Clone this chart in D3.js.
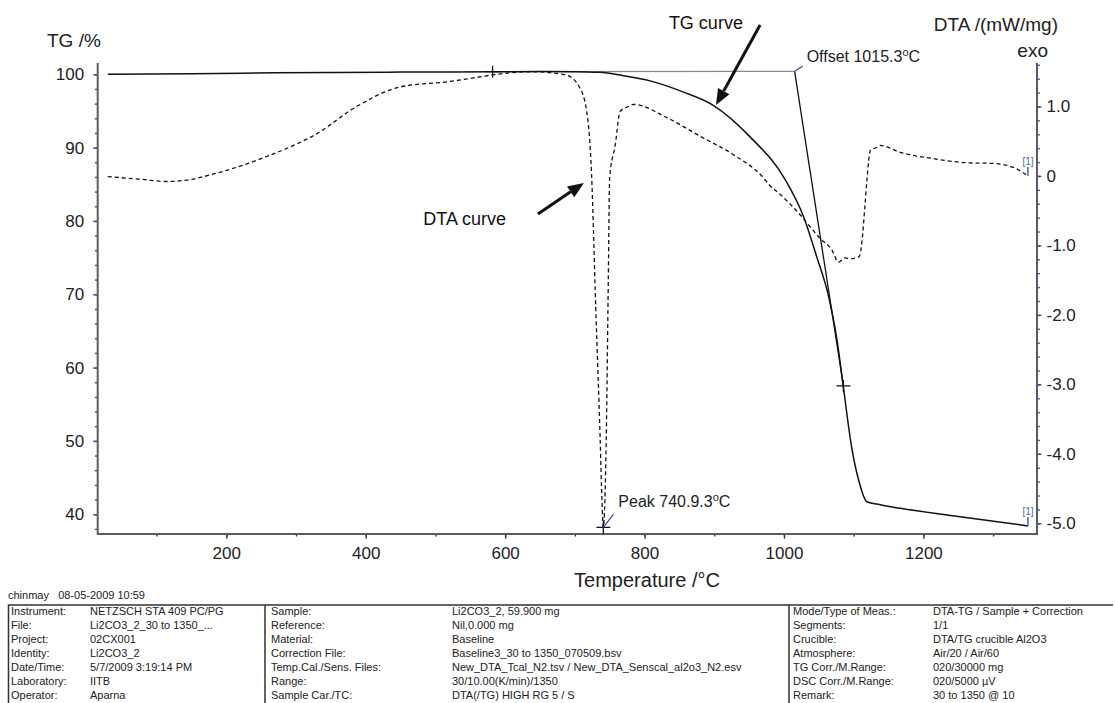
<!DOCTYPE html>
<html>
<head>
<meta charset="utf-8">
<script src="https://cdn.jsdelivr.net/npm/d3@7"></script>
<style>
  body { margin: 0; background: #fff; }
  svg { display: block; font-family: "Liberation Sans", Arial, sans-serif; }
</style>
</head>
<body>
<div id="chart"></div>
<script>
// data
const tempTG = [30, 150, 270, 450, 582, 650, 700, 736, 770, 808, 855, 898, 951, 1002, 1028, 1047, 1064, 1076, 1085, 1097, 1107, 1119, 1138, 1167, 1250, 1350];
const tgValues = [100.0, 100.08, 100.2, 100.3, 100.35, 100.38, 100.36, 100.27, 99.8, 99.1, 97.6, 95.8, 91.5, 85.6, 80.6, 75.1, 69.7, 63.8, 57.5, 49.2, 44.7, 41.7, 41.3, 40.8, 39.7, 38.4];

const tempDTA = [30, 80, 114, 143, 186, 258, 330, 387, 449, 521, 560, 593, 640, 688, 707, 717, 724, 730, 736.4, 739, 740.9, 743, 745, 748, 750, 758, 765, 777, 784, 832, 880, 927, 970, 980, 994, 1018, 1052, 1069, 1078, 1088, 1095, 1108, 1112, 1116, 1119, 1124, 1133, 1138, 1167, 1214, 1262, 1300, 1330, 1350];
const dtaValues = [-0.01, -0.05, -0.08, -0.06, 0.04, 0.28, 0.61, 1.0, 1.28, 1.36, 1.42, 1.47, 1.5, 1.45, 1.27, 0.93, 0.02, -1.9, -3.81, -4.7, -5.06, -4.7, -3.81, -1.5, -0.02, 0.45, 0.93, 1.0, 1.03, 0.84, 0.57, 0.31, -0.02, -0.14, -0.26, -0.5, -0.9, -1.07, -1.24, -1.18, -1.19, -1.16, -0.93, -0.45, -0.06, 0.37, 0.41, 0.44, 0.34, 0.25, 0.19, 0.18, 0.12, 0.0];

const xTicks = [200, 400, 600, 800, 1000, 1200];
const tgTicks = [40, 50, 60, 70, 80, 90, 100];
const dtaTicks = [1, 0, -1, -2, -3, -4, -5];
const dtaTickLabels = ["1.0", "0", "-1.0", "-2.0", "-3.0", "-4.0", "-5.0"];

// evaluation points
const tgStep = [582, 100.35];
const tgOffset = [1015.3, 100.4];
const tgInflection = [1085.3, 57.5];
const dtaPeak = [740.9, -5.06];

// footer info
const infoLabels1 = ["Instrument:", "File:", "Project:", "Identity:", "Date/Time:", "Laboratory:", "Operator:"];
const infoValues1 = ["NETZSCH STA 409 PC/PG", "Li2CO3_2_30 to 1350_...", "02CX001", "Li2CO3_2", "5/7/2009 3:19:14 PM", "IITB", "Aparna"];
const infoLabels2 = ["Sample:", "Reference:", "Material:", "Correction File:", "Temp.Cal./Sens. Files:", "Range:", "Sample Car./TC:"];
const infoValues2 = ["Li2CO3_2, 59.900 mg", "Nil,0.000 mg", "Baseline", "Baseline3_30 to 1350_070509.bsv", "New_DTA_Tcal_N2.tsv / New_DTA_Senscal_al2o3_N2.esv", "30/10.00(K/min)/1350", "DTA(/TG) HIGH RG 5 / S"];
const infoLabels3 = ["Mode/Type of Meas.:", "Segments:", "Crucible:", "Atmosphere:", "TG Corr./M.Range:", "DSC Corr./M.Range:", "Remark:"];
const infoValues3 = ["DTA-TG / Sample + Correction", "1/1", "DTA/TG crucible Al2O3", "Air/20 / Air/60", "020/30000 mg", "020/5000 µV", "30 to 1350 @ 10"];

const width = 1115, height = 703;
const plotL = 97.7, plotR = 1037, plotT = 63, plotB = 534;
const blue = "#3b45a8";
const axisGrey = "#5c5c5c";

const svg = d3.select("#chart").append("svg")
    .attr("width", width)
    .attr("height", height);

const x = d3.scaleLinear().domain([15.5, 1363]).range([plotL, plotR]);
const yTG = d3.scaleLinear().domain([37.3, 101.54]).range([plotB, plotT]);
const yDTA = d3.scaleLinear().domain([-5.154, 1.626]).range([plotB, plotT]);

// axes
function styleAxis(g, col) {
    g.select(".domain").remove();
    g.selectAll(".tick line").attr("stroke", col).attr("stroke-width", 1.4);
    g.selectAll(".tick text").attr("fill", "#222").style("font-size", "17px");
}

svg.append("g")
    .attr("transform", `translate(0,${plotB})`)
    .call(d3.axisBottom(x).tickValues(d3.range(100, 1400, 100)).tickSize(2.5).tickFormat(""))
    .call(g => styleAxis(g, "#333"));
svg.append("g")
    .attr("transform", `translate(0,${plotB})`)
    .call(d3.axisBottom(x).tickValues(xTicks).tickFormat(d3.format("d")).tickSize(4.7).tickPadding(8.5))
    .call(g => styleAxis(g, "#333"));

svg.append("g")
    .attr("transform", `translate(${plotL},0)`)
    .call(d3.axisLeft(yTG).tickValues(d3.range(38, 102, 2)).tickSize(2.8).tickFormat(""))
    .call(g => styleAxis(g, blue));
svg.append("g")
    .attr("transform", `translate(${plotL},0)`)
    .call(d3.axisLeft(yTG).tickValues(tgTicks).tickSize(4.5).tickPadding(9))
    .call(g => styleAxis(g, blue));

svg.append("g")
    .attr("transform", `translate(${plotR},0)`)
    .call(d3.axisRight(yDTA).tickValues(d3.range(-25, 9).map(d => d / 5)).tickSize(2.8).tickFormat(""))
    .call(g => styleAxis(g, blue));
svg.append("g")
    .attr("transform", `translate(${plotR},0)`)
    .call(d3.axisRight(yDTA).tickValues(dtaTicks).tickFormat((d, i) => dtaTickLabels[i]).tickSize(4.5).tickPadding(5))
    .call(g => styleAxis(g, blue));

// axis lines
svg.append("path")
    .attr("d", `M${plotL},${plotT}V${plotB}H${plotR}V${plotT}`)
    .attr("fill", "none")
    .attr("stroke", axisGrey)
    .attr("stroke-width", 2);

// axis titles
svg.append("text").attr("x", 47).attr("y", 47).style("font-size", "19px").attr("fill", "#222").text("TG /%");
svg.append("text").attr("x", 1058).attr("y", 31).attr("text-anchor", "end").style("font-size", "19px").attr("fill", "#222").text("DTA /(mW/mg)");
svg.append("text").attr("x", 1048).attr("y", 57).attr("text-anchor", "end").style("font-size", "19px").attr("fill", "#222").text("exo");
svg.append("text").attr("x", 647).attr("y", 587).attr("text-anchor", "middle").style("font-size", "20px").attr("fill", "#222").text("Temperature /°C");

// curves
const tgLine = d3.line().x(d => x(d[0])).y(d => yTG(d[1])).curve(d3.curveMonotoneX);
const dtaLine = d3.line().x(d => x(d[0])).y(d => yDTA(d[1])).curve(d3.curveMonotoneX);

// baseline + tangent for the offset evaluation
svg.append("line")
    .attr("x1", x(tgStep[0])).attr("y1", yTG(tgStep[1]))
    .attr("x2", x(tgOffset[0])).attr("y2", yTG(tgOffset[1]))
    .attr("stroke", "#8a8a8a").attr("stroke-width", 1.2);
svg.append("line")
    .attr("x1", x(tgOffset[0])).attr("y1", yTG(tgOffset[1]))
    .attr("x2", x(tgInflection[0])).attr("y2", yTG(tgInflection[1]))
    .attr("stroke", "#111").attr("stroke-width", 1.3);

svg.append("path")
    .datum(tempTG.map((t, i) => [t, tgValues[i]]))
    .attr("d", tgLine)
    .attr("fill", "none")
    .attr("stroke", "#111")
    .attr("stroke-width", 1.5);

svg.append("path")
    .datum(tempDTA.map((t, i) => [t, dtaValues[i]]))
    .attr("d", dtaLine)
    .attr("fill", "none")
    .attr("stroke", "#111")
    .attr("stroke-width", 1.3)
    .attr("stroke-dasharray", "4,3");

// plus markers
const plusPts = [[x(tgStep[0]), yTG(tgStep[1])], [x(tgInflection[0]), yTG(tgInflection[1])], [x(dtaPeak[0]), yDTA(dtaPeak[1])]];
svg.selectAll(".plus").data(plusPts).enter().append("path")
    .attr("d", d => `M${d[0] - 7},${d[1]}H${d[0] + 7}M${d[0]},${d[1] - 6}V${d[1] + 6}`)
    .attr("stroke", "#111").attr("stroke-width", 1.3);

// evaluation labels
const ox = x(tgOffset[0]), oy = yTG(tgOffset[1]);
svg.append("line").attr("x1", ox).attr("y1", oy).attr("x2", ox + 8).attr("y2", oy - 5).attr("stroke", blue).attr("stroke-width", 1.2);
const offT = svg.append("text").attr("x", ox + 12).attr("y", oy - 9).style("font-size", "16px").attr("fill", "#222");
offT.append("tspan").text("Offset 1015.3");
offT.append("tspan").attr("dy", -6).style("font-size", "11px").text("o");
offT.append("tspan").attr("dy", 6).text("C");

const px = x(dtaPeak[0]), py = yDTA(dtaPeak[1]);
svg.append("line").attr("x1", px).attr("y1", py).attr("x2", px + 10).attr("y2", py - 13).attr("stroke", blue).attr("stroke-width", 1.2);
const pkT = svg.append("text").attr("x", px + 15).attr("y", py - 20).style("font-size", "16px").attr("fill", "#222");
pkT.append("tspan").text("Peak 740.9.3");
pkT.append("tspan").attr("dy", -6).style("font-size", "11px").text("o");
pkT.append("tspan").attr("dy", 6).text("C");

// [1] end marks
const ends = [[x(tempDTA[tempDTA.length - 1]), yDTA(dtaValues[dtaValues.length - 1])], [x(tempTG[tempTG.length - 1]), yTG(tgValues[tgValues.length - 1])]];
ends.forEach(e => {
    svg.append("line").attr("x1", e[0]).attr("y1", e[1]).attr("x2", e[0]).attr("y2", e[1] - 9).attr("stroke", blue).attr("stroke-width", 1.3);
    svg.append("text").attr("x", e[0]).attr("y", e[1] - 11).attr("text-anchor", "middle").style("font-size", "10px").attr("fill", "#5060a8").text("[1]");
});

// arrows
function arrow(x1, y1, x2, y2) {
    const a = Math.atan2(y2 - y1, x2 - x1), L = 16, W = 6.5;
    const bx = x2 - L * Math.cos(a), by = y2 - L * Math.sin(a);
    svg.append("line").attr("x1", x1).attr("y1", y1).attr("x2", bx).attr("y2", by)
        .attr("stroke", "#111").attr("stroke-width", 3);
    svg.append("path")
        .attr("d", `M${x2},${y2}L${bx + W * Math.sin(a)},${by - W * Math.cos(a)}L${bx - W * Math.sin(a)},${by + W * Math.cos(a)}Z`)
        .attr("fill", "#111");
}
arrow(x(965.7), yTG(106.72), x(902.5), yTG(95.8));
arrow(x(647), yDTA(-0.547), x(713), yDTA(-0.1));
svg.append("text").attr("x", x(888)).attr("y", yTG(106.18)).attr("text-anchor", "middle").style("font-size", "18px").attr("fill", "#111").text("TG curve");
svg.append("text").attr("x", x(542)).attr("y", yDTA(-0.706)).attr("text-anchor", "middle").style("font-size", "18px").attr("fill", "#111").text("DTA curve");

// footer
const foot = svg.append("g").style("font-size", "11px").attr("fill", "#222");
foot.append("text").attr("x", 8).attr("y", 599).style("white-space", "pre").text("chinmay   08-05-2009 10:59");
foot.append("path")
    .attr("d", "M8.5,720V605H1113M265,605V720M789,605V720")
    .attr("fill", "none").attr("stroke", "#333").attr("stroke-width", 1.5);
const rowY = i => 615 + i * 14;
const cols = [[11, 90, infoLabels1, infoValues1], [271, 452, infoLabels2, infoValues2], [793, 933, infoLabels3, infoValues3]];
cols.forEach(c => {
    c[2].forEach((t, i) => foot.append("text").attr("x", c[0]).attr("y", rowY(i)).text(t));
    c[3].forEach((t, i) => foot.append("text").attr("x", c[1]).attr("y", rowY(i)).text(t));
});
</script>
</body>
</html>
